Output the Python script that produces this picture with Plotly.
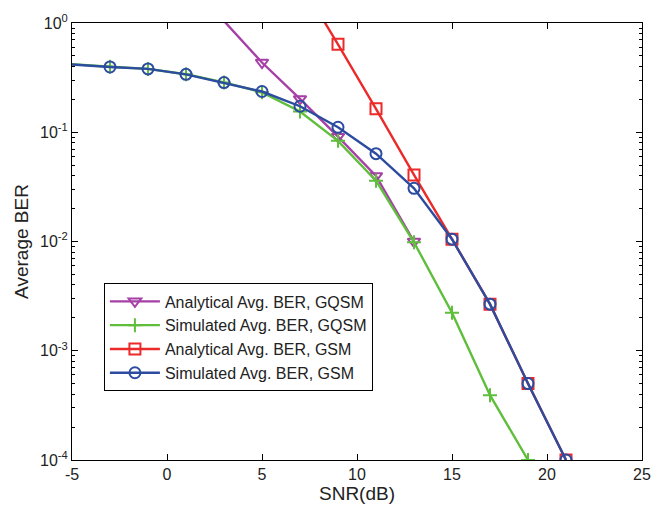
import plotly.graph_objects as go

# SNR grid (dB)
snr_sim = [-5, -3, -1, 1, 3, 5, 7, 9, 11, 13, 15, 17, 19, 21]
snr_gqsm_sim = [-5, -3, -1, 1, 3, 5, 7, 9, 11, 13, 15, 17, 19]
snr_gqsm_ana = [1, 5, 7, 9, 11, 13]
snr_gsm_ana = [7, 9, 11, 13, 15, 17, 19, 21]

# Average BER curves
ber_gqsm_ana = [2.5, 0.435, 0.202, 0.091, 0.0398, 0.0100]
ber_gqsm_sim = [0.42, 0.398, 0.38, 0.34, 0.286, 0.232, 0.155, 0.0834, 0.036,
                0.00984, 0.00223, 0.000392, 0.0001]
ber_gsm_ana = [2.4, 0.638, 0.164, 0.0407, 0.0105, 0.00267, 0.000501, 0.0001]
ber_gsm_sim = [0.417, 0.396, 0.38, 0.339, 0.285, 0.236, 0.173, 0.111, 0.0637,
               0.0307, 0.0105, 0.00267, 0.000501, 0.0001]

# Axis ticks
x_ticks = [-5, 0, 5, 10, 15, 20, 25]
y_tick_exps = [-4, -3, -2, -1, 0]

PURPLE = "#A63FA6"
GREEN = "#5FBE3C"
RED = "#EC2A2A"
BLUE = "#2C4CA0"
LW = 2.4

fig = go.Figure()

# Analytical GQSM
fig.add_trace(go.Scatter(
    x=snr_gqsm_ana, y=ber_gqsm_ana, mode="lines+markers",
    name="Analytical Avg. BER, GQSM",
    line=dict(color=PURPLE, width=LW),
    marker=dict(symbol="triangle-down-open", size=11, color=PURPLE,
                line=dict(width=2, color=PURPLE)),
))

# Simulated GQSM: first segment drawn without a marker
fig.add_trace(go.Scatter(
    x=snr_gqsm_sim[:2], y=ber_gqsm_sim[:2], mode="lines",
    line=dict(color=GREEN, width=LW), showlegend=False, hoverinfo="skip",
))
fig.add_trace(go.Scatter(
    x=snr_gqsm_sim[1:], y=ber_gqsm_sim[1:], mode="lines+markers",
    name="Simulated Avg. BER, GQSM",
    line=dict(color=GREEN, width=LW),
    marker=dict(symbol="cross-thin-open", size=10, color=GREEN,
                line=dict(width=2, color=GREEN)),
))

# Analytical GSM
fig.add_trace(go.Scatter(
    x=snr_gsm_ana, y=ber_gsm_ana, mode="lines+markers",
    name="Analytical Avg. BER, GSM",
    line=dict(color=RED, width=LW),
    marker=dict(symbol="square-open", size=11, color=RED,
                line=dict(width=2, color=RED)),
))

# Simulated GSM: first segment drawn without a marker
fig.add_trace(go.Scatter(
    x=snr_sim[:2], y=ber_gsm_sim[:2], mode="lines",
    line=dict(color=BLUE, width=LW), showlegend=False, hoverinfo="skip",
))
fig.add_trace(go.Scatter(
    x=snr_sim[1:], y=ber_gsm_sim[1:], mode="lines+markers",
    name="Simulated Avg. BER, GSM",
    line=dict(color=BLUE, width=LW),
    marker=dict(symbol="circle-open", size=11, color=BLUE,
                line=dict(width=2, color=BLUE)),
))

minor_vals = [k * 10 ** e for e in range(-4, 0) for k in range(2, 10)]

fig.update_layout(
    width=665, height=513,
    margin=dict(l=72, r=23, t=16, b=52),
    paper_bgcolor="white", plot_bgcolor="white",
    font=dict(family="Liberation Sans, Arial, sans-serif", color="#222222"),
    showlegend=True,
    legend=dict(
        x=0.056, y=0.404, xanchor="left", yanchor="top",
        bgcolor="white", bordercolor="black", borderwidth=1,
        font=dict(size=16, color="#222222"),
        tracegroupgap=0, itemwidth=50,
    ),
    xaxis=dict(
        range=[-5, 25], tickvals=x_ticks,
        ticktext=[str(v) for v in x_ticks],
        ticks="inside", ticklen=6, tickcolor="black",
        showline=True, linecolor="black", linewidth=1, mirror="ticks",
        showgrid=False, zeroline=False,
        tickfont=dict(size=16),
        title=dict(text="SNR(dB)", font=dict(size=19), standoff=4),
    ),
    yaxis=dict(
        type="log", range=[-4, 0],
        tickvals=[10 ** e for e in y_tick_exps],
        ticktext=[f"10<sup>{e}</sup>" for e in y_tick_exps],
        ticks="inside", ticklen=6, tickcolor="black",
        showline=True, linecolor="black", linewidth=1, mirror="ticks",
        showgrid=False, zeroline=False,
        tickfont=dict(size=16),
        minor=dict(tickvals=minor_vals, ticks="inside", ticklen=3,
                   tickcolor="black", showgrid=False),
        title=dict(text="Average BER", font=dict(size=19), standoff=6),
    ),
)

fig.write_html("out.html")
